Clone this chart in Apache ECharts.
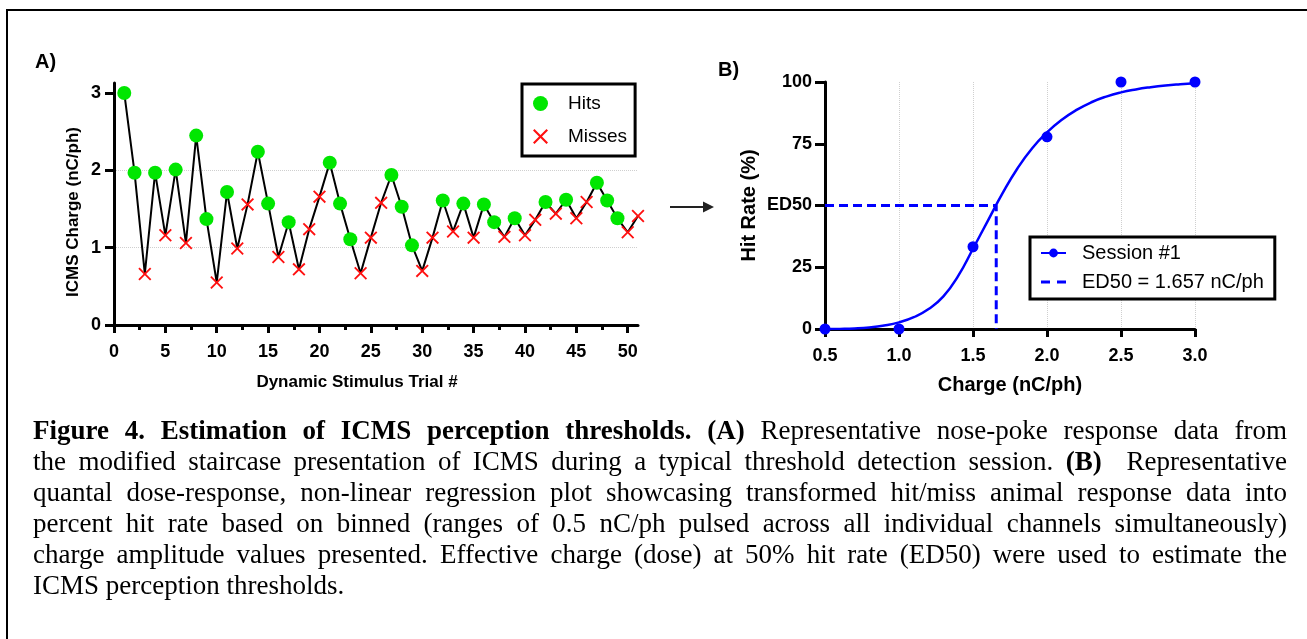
<!DOCTYPE html>
<html><head><meta charset="utf-8">
<script src="https://cdn.jsdelivr.net/npm/echarts@6/dist/echarts.min.js"></script>
<style>
html,body{margin:0;padding:0;background:#fff;}
#chart{position:absolute;left:0;top:0;width:1307px;height:639px;}
#caption{position:absolute;left:33px;top:415px;width:1254px;font-family:"Liberation Serif","Times New Roman",serif;font-size:22px;line-height:31px;color:#000;}
#caption .j{text-align:justify;text-align-last:justify;white-space:nowrap;}
#caption .l{text-align:left;white-space:nowrap;}
#measure{position:absolute;left:0;top:-500px;visibility:hidden;white-space:nowrap;font-family:"Liberation Serif","Times New Roman",serif;font-size:20px;}
</style></head><body>
<div id="chart"></div>
<div id="caption">
<div class="j"><b>Figure 4. Estimation of ICMS perception thresholds. (A)</b> Representative nose-poke response data from</div>
<div class="j">the modified staircase presentation of ICMS during a typical threshold detection session. <b>(B)</b>&nbsp; Representative</div>
<div class="j">quantal dose-response, non-linear regression plot showcasing transformed hit/miss animal response data into</div>
<div class="j">percent hit rate based on binned (ranges of 0.5 nC/ph pulsed across all individual channels simultaneously)</div>
<div class="j">charge amplitude values presented. Effective charge (dose) at 50% hit rate (ED50) were used to estimate the</div>
<div class="l">ICMS perception thresholds.</div>
</div>
<span id="measure"></span>
<script>
// ---------- Panel A data ----------
const trials = [1,2,3,4,5,6,7,8,9,10,11,12,13,14,15,16,17,18,19,20,21,22,23,24,25,26,27,28,29,30,31,32,33,34,35,36,37,38,39,40,41,42,43,44,45,46,47,48,49,50,51];
const charge = [3.00,1.97,0.66,1.97,1.16,2.01,1.06,2.45,1.37,0.55,1.72,0.99,1.56,2.24,1.57,0.88,1.33,0.72,1.24,1.66,2.10,1.57,1.11,0.67,1.13,1.58,1.94,1.53,1.03,0.70,1.13,1.61,1.21,1.57,1.13,1.56,1.33,1.14,1.38,1.16,1.36,1.59,1.44,1.62,1.38,1.59,1.84,1.61,1.38,1.20,1.41];
const outcome = ['H','H','M','H','M','H','M','H','H','M',
                 'H','M','M','H','H','M','H','M','M','M',
                 'H','H','H','M','M','M','H','H','H','M',
                 'M','H','M','H','M','H','H','M','H','M',
                 'M','H','M','H','M','M','H','H','H','M',
                 'M'];
const xTicksA = [0,5,10,15,20,25,30,35,40,45,50];
const xMinorTicksA = [2.5,7.5,12.5,17.5,22.5,27.5,32.5,37.5,42.5,47.5];
const yTicksA = [0,1,2,3];

// ---------- Panel B data ----------
const binCharge = [0.5,1.0,1.5,2.0,2.5,3.0];
const hitRate = [0,0,33.3,77.8,100,100];
const curveX = [0.5,0.6,0.7,0.8,0.9,1.0,1.1,1.2,1.3,1.4,1.5,1.6,1.7,1.8,1.9,2.0,2.1,2.2,2.3,2.4,2.5,2.6,2.7,2.8,2.9,3.0];
const curveY = [0,0.05,0.2,0.6,1.4,2.7,4.8,8.1,13.2,21.5,32.5,43.8,55,65,73.2,79.6,84.7,88.7,91.8,94.1,95.8,97.0,97.9,98.6,99.1,99.5];
const ed50 = 1.657;
const ed50Rate = 50;
const xTicksB = [0.5,1.0,1.5,2.0,2.5,3.0];
const yTicksB = [0,25,50,75,100];

// fit caption font so the justified lines carry normal word spacing
(function () {
  const m = document.getElementById('measure');
  const lines = document.querySelectorAll('#caption .j');
  let maxW = 0;
  lines.forEach(function (el) { m.innerHTML = el.innerHTML; maxW = Math.max(maxW, m.getBoundingClientRect().width); });
  const size = Math.min(27, 20 * 1246 / maxW);
  document.getElementById('caption').style.fontSize = size.toFixed(2) + 'px';
})();

const FONT = '"Liberation Sans", Arial, sans-serif';
const xPath = 'path://M1,0 L5,4 L9,0 L10,1 L6,5 L10,9 L9,10 L5,6 L1,10 L0,9 L4,5 L0,1 Z';
const dashPath = 'path://M0,0L0.01,0L0,0.01Z M0,11L0.01,11L0,10.99Z M0,4h9v3h-9Z M16,4h9v3h-9Z';

const lineData = trials.map((t, i) => [t, charge[i]]);
const hitData = trials.map((t, i) => [t, charge[i]]).filter((d, i) => outcome[i] === 'H');
const missData = trials.map((t, i) => [t, charge[i]]).filter((d, i) => outcome[i] === 'M');
const pointsB = binCharge.map((x, i) => [x, hitRate[i]]);
const curveB = curveX.map((x, i) => [x, curveY[i]]);
const ed50Name = 'ED50 = ' + ed50 + ' nC/ph';
const ed50Data = [[binCharge[0], ed50Rate], [ed50, ed50Rate], [ed50, 0]];

const axisLine = {lineStyle: {color: '#000', width: 3}};
const tickStyle = {color: '#000', width: 3};
const labelStyle = {color: '#000', fontWeight: 'bold', fontSize: 18, fontFamily: FONT};
const nameStyleB = {color: '#000', fontWeight: 'bold', fontSize: 20, fontFamily: FONT};

const chart = echarts.init(document.getElementById('chart'), null, {renderer: 'canvas'});
chart.setOption({
  animation: false,
  backgroundColor: '#fff',
  grid: [
    {left: 114, top: 83, right: 669, bottom: 314},
    {left: 825, top: 82, right: 112, bottom: 310}
  ],
  xAxis: [
    {gridIndex: 0, type: 'value', min: 0, max: 51, interval: 5,
     axisLine: axisLine,
     axisTick: {customValues: xTicksA, length: 8, lineStyle: tickStyle},
     axisLabel: Object.assign({customValues: xTicksA, margin: 18}, labelStyle),
     splitLine: {show: false}},
    {gridIndex: 0, type: 'value', min: 0, max: 51, position: 'bottom',
     axisLine: {show: false},
     axisTick: {customValues: xMinorTicksA, length: 5, lineStyle: tickStyle},
     axisLabel: {show: false}, splitLine: {show: false}},
    {gridIndex: 1, type: 'value', min: 0.5, max: 3.0, interval: 0.5,
     axisLine: axisLine,
     axisTick: {customValues: xTicksB, length: 8, lineStyle: tickStyle},
     axisLabel: Object.assign({customValues: xTicksB, margin: 18, formatter: v => v.toFixed(1)}, labelStyle),
     splitLine: {show: true, showMinLine: false, lineStyle: {color: '#cfcfcf', type: 'dotted', width: 1}},
     name: 'Charge (nC/ph)', nameLocation: 'middle', nameGap: 46, nameTextStyle: nameStyleB}
  ],
  yAxis: [
    {gridIndex: 0, type: 'value', min: 0, max: 3.13, interval: 0.5,
     axisLine: Object.assign({show: true}, axisLine),
     axisTick: {show: true, customValues: yTicksA, length: 9, lineStyle: tickStyle},
     axisLabel: Object.assign({customValues: yTicksA, margin: 13}, labelStyle),
     splitLine: {show: true, showMinLine: false, showMaxLine: false, lineStyle: {color: '#cfcfcf', type: 'dotted', width: 1}}},
    {gridIndex: 1, type: 'value', min: 0, max: 100, interval: 25,
     axisLine: Object.assign({show: true}, axisLine),
     axisTick: {show: true, customValues: yTicksB, length: 10, lineStyle: tickStyle},
     axisLabel: Object.assign({customValues: yTicksB, margin: 13, formatter: v => (v === ed50Rate ? 'ED50' : String(v))}, labelStyle),
     splitLine: {show: false},
     name: 'Hit Rate (%)', nameLocation: 'middle', nameGap: 66, nameTextStyle: nameStyleB}
  ],
  legend: [
    {data: ['Hits', {name: 'Misses', icon: xPath}], orient: 'vertical', left: 522, top: 84,
     padding: [10, 8, 10, 11], itemGap: 14, itemWidth: 15, itemHeight: 15,
     borderColor: '#000', borderWidth: 3, borderRadius: 0, backgroundColor: '#fff',
     textStyle: {fontSize: 19, fontFamily: FONT, color: '#000', padding: [0, 0, 0, 15]}},
    {data: ['Session #1', {name: ed50Name, icon: dashPath}], orient: 'vertical', left: 1030, top: 237,
     padding: [6, 11, 7, 10], itemGap: 9, itemWidth: 25, itemHeight: 11,
     borderColor: '#000', borderWidth: 3, borderRadius: 0, backgroundColor: '#fff',
     textStyle: {fontSize: 20, fontFamily: FONT, color: '#000', padding: [0, 0, 0, 11]}}
  ],
  series: [
    {name: 'Staircase', type: 'line', xAxisIndex: 0, yAxisIndex: 0, data: lineData,
     symbol: 'none', lineStyle: {color: '#000', width: 2}, z: 2, silent: true},
    {name: 'Hits', type: 'scatter', xAxisIndex: 0, yAxisIndex: 0, data: hitData,
     symbol: 'circle', symbolSize: 14, itemStyle: {color: '#00e600', opacity: 1}, z: 3},
    {name: 'Misses', type: 'scatter', xAxisIndex: 0, yAxisIndex: 0, data: missData,
     symbol: xPath, symbolSize: 13, itemStyle: {color: '#ff1010', opacity: 1}, z: 3},
    {name: 'Session #1', type: 'line', xAxisIndex: 2, yAxisIndex: 1, data: curveB, smooth: 0.5,
     symbol: 'circle', showSymbol: false, lineStyle: {color: '#0000ff', width: 2.5}, itemStyle: {color: '#0000ff'}, z: 3},
    {name: 'Session #1', type: 'scatter', xAxisIndex: 2, yAxisIndex: 1, data: pointsB,
     symbol: 'circle', symbolSize: 11, itemStyle: {color: '#0000ff', opacity: 1}, clip: false, z: 4},
    {name: ed50Name, type: 'line', xAxisIndex: 2, yAxisIndex: 1, data: ed50Data,
     symbol: 'none', lineStyle: {color: '#0000ff', width: 3, type: [9, 5]}, itemStyle: {color: '#0000ff'}, z: 2}
  ],
  graphic: [
    {type: 'rect', shape: {x: 7, y: 10, width: 1400, height: 700}, style: {fill: 'none', stroke: '#000', lineWidth: 2}, silent: true},
    {type: 'text', left: 35, top: 52, style: {text: 'A)', font: 'bold 20px ' + FONT, fill: '#000'}},
    {type: 'text', left: 718, top: 60, style: {text: 'B)', font: 'bold 20px ' + FONT, fill: '#000'}},
    {type: 'text', x: 357, y: 382, style: {text: 'Dynamic Stimulus Trial #', font: 'bold 17px ' + FONT, fill: '#000', align: 'center', verticalAlign: 'middle'}},
    {type: 'text', x: 73, y: 212, rotation: Math.PI / 2, style: {text: 'ICMS Charge (nC/ph)', font: 'bold 17px ' + FONT, fill: '#000', align: 'center', verticalAlign: 'middle'}},
    {type: 'line', shape: {x1: 670, y1: 207, x2: 705, y2: 207}, style: {stroke: '#222', lineWidth: 2}},
    {type: 'polygon', shape: {points: [[703, 201.5], [714, 207], [703, 212.5]]}, style: {fill: '#222'}}
  ]
});
</script>
</body></html>
